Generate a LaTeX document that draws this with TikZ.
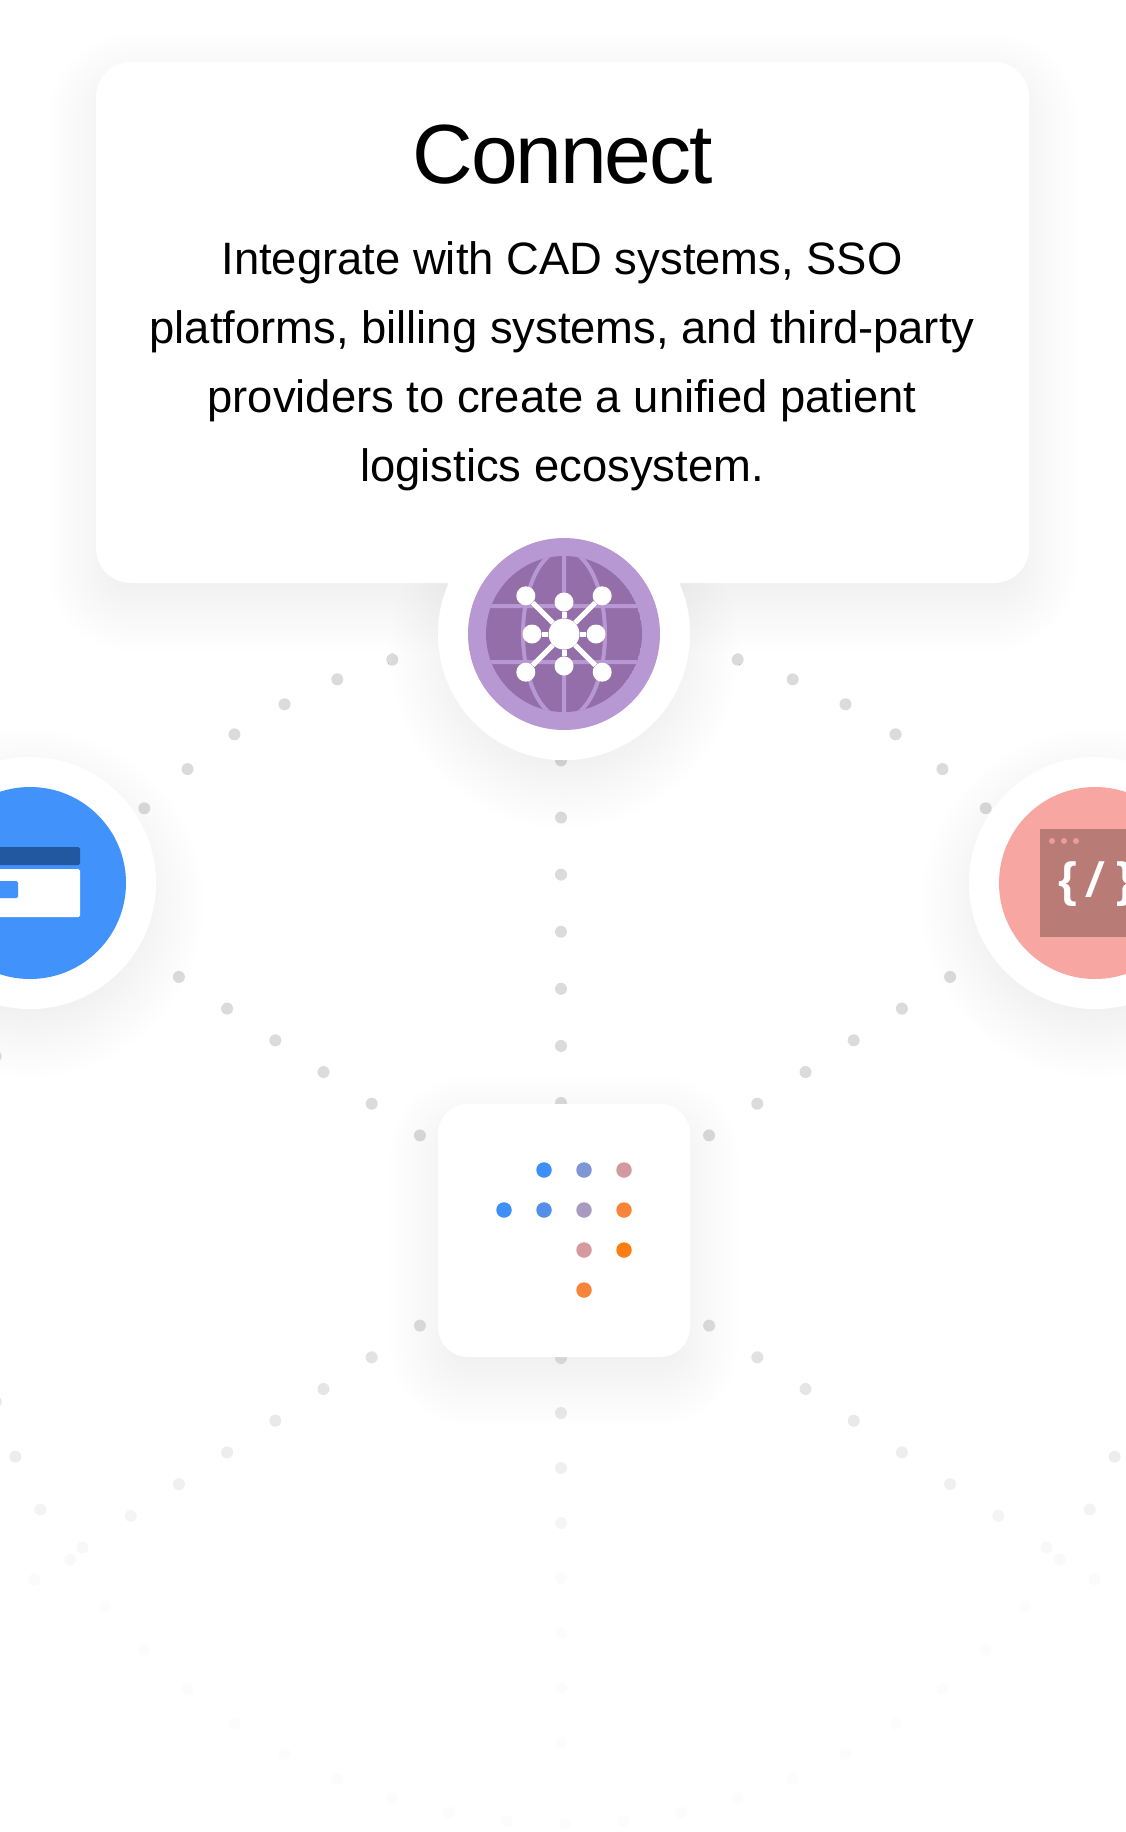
\documentclass[tikz,border=0pt]{standalone}
\usepackage{fontspec}
\setmainfont{Liberation Sans}
\usetikzlibrary{shadows.blur}
\definecolor{globelight}{HTML}{B898D2}
\definecolor{globedark}{HTML}{946EA8}
\definecolor{payblue}{HTML}{4193FB}
\definecolor{paydark}{HTML}{22589F}
\definecolor{codepink}{HTML}{F7A6A1}
\definecolor{codedark}{HTML}{B97B76}
\definecolor{codedot}{HTML}{EF9C96}
\tikzset{
  softshadow/.style={blur shadow={shadow xshift=0pt,shadow yshift=-20pt,
      shadow blur radius=50pt,shadow blur steps=30,shadow opacity=8}},
  whitedisc/.style={circle,fill=white,inner sep=0pt,minimum size=252pt},
  icondisc/.style={circle,inner sep=0pt,minimum size=192pt},
  whitecard/.style={rectangle,fill=white,inner sep=0pt,rounded corners=#1},
  hubdot/.style={circle,fill=white,inner sep=0pt,minimum size=31pt},
  satdot/.style={circle,fill=white,inner sep=0pt,minimum size=19pt},
  logodot/.style={circle,inner sep=0pt,minimum size=15.5pt}
}
\newcommand{\greydot}[2]{%
  \pgfmathsetmacro{\dshade}{max(1,min(14,14-(#2-1300)*0.045))}
  \fill[black!\dshade] (#1,#2) circle[radius=6];}
\begin{document}
\begin{tikzpicture}[x=1pt,y=-1pt,line join=round]
  \useasboundingbox (0,0) rectangle (1125,1832);

  \foreach \k in {0,...,63} {
    \pgfmathsetmacro{\dotx}{565+595*cos(90+\k*5.625)}
    \pgfmathsetmacro{\doty}{1229-595*sin(90+\k*5.625)}
    \greydot{\dotx}{\doty}
  }
  \foreach \k in {3,...,11} {
    \foreach \sx in {-1,1} {
      \foreach \sy in {-1,1} {
        \pgfmathsetmacro{\dotx}{564.5+\sx*48.2*\k}
        \pgfmathsetmacro{\doty}{1230.5+\sy*31.7*\k}
        \greydot{\dotx}{\doty}
      }
    }
  }
  \foreach \k in {0,...,6} {
    \pgfmathsetmacro{\doty}{1103-57.1*\k}
    \greydot{561}{\doty}
  }
  \foreach \k in {0,...,7} {
    \pgfmathsetmacro{\doty}{1358+55*\k}
    \greydot{561}{\doty}
  }

  \node[whitedisc,softshadow] (globeback) at (564,634) {};
  \node[whitecard=35pt,softshadow,minimum width=933pt,minimum height=521pt]
    (card) at (562.5,322.5) {};
  \node[whitedisc] (globedisc) at (564,634) {};
  \node[icondisc,fill=globelight] (globe) at (564,634) {};
  \begin{scope}
    \clip (564,634) circle[radius=78];
    \fill[globedark] (564,634) circle[radius=78];
    \draw[globelight,line width=4pt]
      (564,550) -- (564,718)
      (480,606) -- (648,606)
      (480,662) -- (648,662)
      (564,634) ellipse[x radius=41,y radius=84];
  \end{scope}
  \node[hubdot] (hub) at (564,634) {};
  \foreach \a/\d in {0/32,45/54,90/32,135/54,180/32,225/54,270/32,315/54} {
    \node[satdot] (sat\a) at ([shift={(\a:\d)}]hub) {};
    \draw[white,line width=5pt] (hub) -- (sat\a);
  }

  \node (title) at (562.5,155)
    {\fontsize{84}{90}\selectfont\addfontfeatures{LetterSpace=-2.5}Connect};
  \node[align=center,inner sep=0pt,font={\fontsize{45.4}{69}\selectfont}] (body) at (562,366)
    {Integrate with CAD systems, SSO\\
     platforms, billing systems, and third-party\\
     providers to create a unified patient\\
     logistics ecosystem.};

  \node[whitedisc,softshadow] (paydisc) at (30,883) {};
  \node[icondisc,fill=payblue] (pay) at (30,883) {};
  \fill[paydark,rounded corners=1.5pt] (-20,847) rectangle (80,865);
  \fill[white,rounded corners=1.5pt] (-20,869) rectangle (80,917);
  \fill[payblue,rounded corners=1.5pt] (-20,881) rectangle (18,898);

  \node[whitedisc,softshadow] (codedisc) at (1095,883) {};
  \node[icondisc,fill=codepink] (code) at (1095,883) {};
  \begin{scope}
    \clip (1095,883) circle[radius=96];
    \fill[codedark] (1040,829) rectangle (1160,937);
  \end{scope}
  \foreach \x in {1052,1064,1076} {
    \fill[codedot] (\x,841) circle[radius=3];
  }
  \node[white,font={\fontsize{48}{48}\selectfont\bfseries}] (codetext) at (1097,884)
    {\{\hspace{10pt}\textit{/}\hspace{12pt}\}};

  \node[whitecard=30pt,softshadow,minimum width=252pt,minimum height=253pt] (logo) at (564,1230.5) {};
  \foreach \x/\y/\c in {
      544/1170/3F8FFA,584/1170/7F96D5,624/1170/D09A9F,
      504/1210/3F8FFA,544/1210/5490EA,584/1210/A99ABF,624/1210/F8853A,
      584/1250/D49A9F,624/1250/FD7E14,
      584/1290/F8853A} {
    \definecolor{logofill}{HTML}{\c}
    \node[logodot,fill=logofill] (logo\x\y) at (\x,\y) {};
  }
\end{tikzpicture}
\end{document}
